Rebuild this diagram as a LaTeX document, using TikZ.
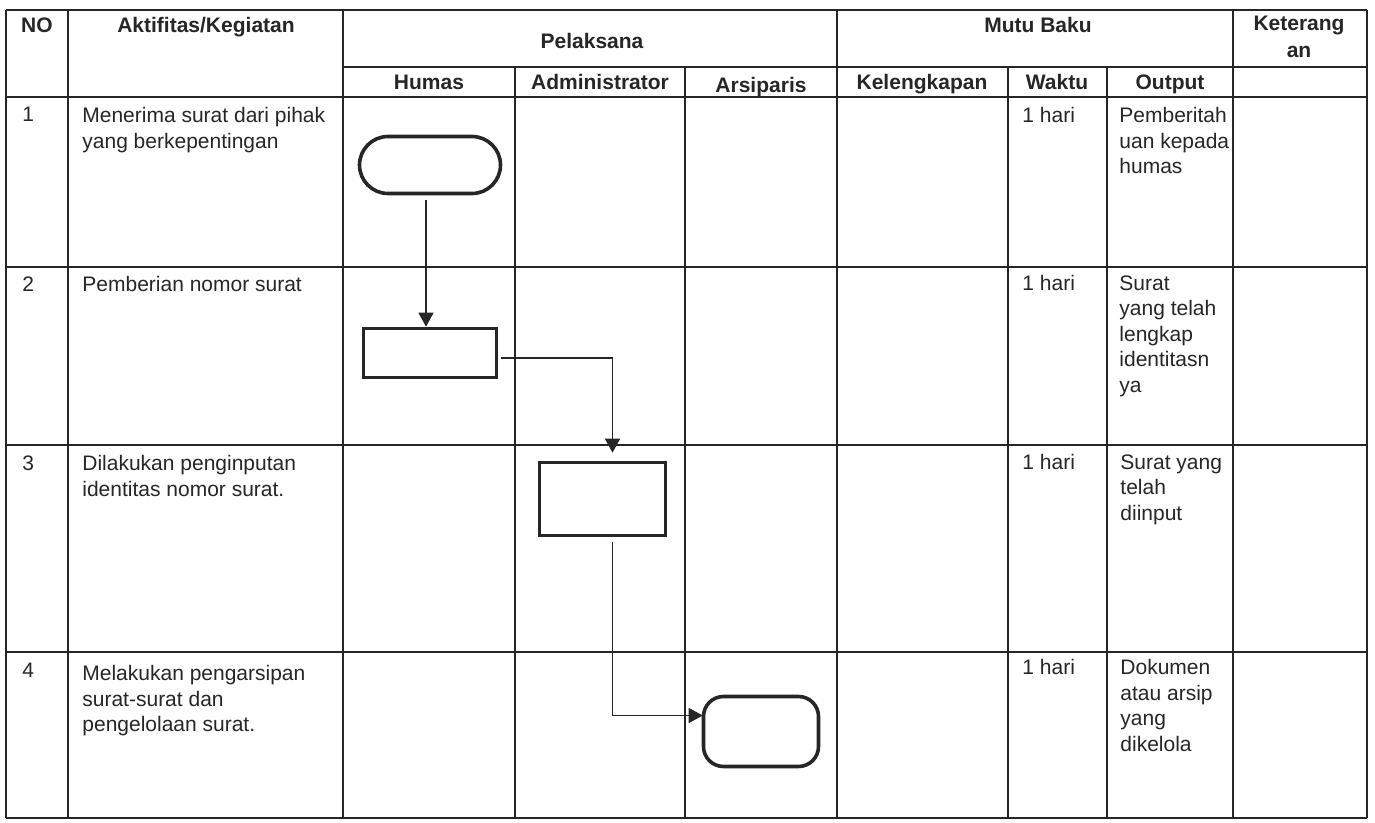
\documentclass[tikz,border=0pt]{standalone}
\usepackage{fontspec}
\setmainfont{Liberation Sans}
\usetikzlibrary{arrows.meta,calc,shapes.misc}
\begin{document}
\begin{tikzpicture}[x=0.5pt,y=-0.5pt,
  gridline/.style={line width=0.8pt, draw=black!85},
  cell/.style={anchor=north west, inner sep=0pt, align=left, font=\fontsize{10.5}{12.75}\selectfont, text=black!85},
  hdr/.style={inner sep=0pt, align=center, font=\bfseries\fontsize{10.5}{13.5}\selectfont, text=black!85},
  termbox/.style={draw=black!85, line width=1.8pt, rounded rectangle, inner sep=0pt},
  procbox/.style={draw=black!85, line width=1.8pt, rectangle, inner sep=0pt},
  archbox/.style={draw=black!85, line width=1.8pt, rectangle, rounded corners=10pt, inner sep=0pt},
  conn/.style={draw=black!85, line width=0.7pt, -{Triangle[width=7.5pt,length=7pt]}}
]
\useasboundingbox (0,0) rectangle (1375,823);
% horizontal grid lines
\draw[gridline] (6,10) -- (1367,10);
\draw[gridline] (343,67) -- (1367,67);
\foreach \y in {97,267,445,652,818} \draw[gridline] (6,\y) -- (1367,\y);
% vertical grid lines
\foreach \x in {6,68,343,837,1233,1367} \draw[gridline] (\x,10) -- (\x,818);
\foreach \x in {515,685,1008,1107} \draw[gridline] (\x,67) -- (\x,818);

% header
\node[hdr, anchor=north] (hNo) at (37,17) {NO};
\node[hdr, anchor=north] (hAkt) at (206,17) {Aktifitas/Kegiatan};
\node[hdr, anchor=north] (hPel) at (592,33) {Pelaksana};
\node[hdr, anchor=north] (hMutu) at (1038,17) {Mutu Baku};
\node[hdr, anchor=north] (hKet) at (1299,16) {Keterang\\an};
\node[hdr, anchor=base] (hHumas) at (429,90) {Humas};
\node[hdr, anchor=base] (hAdm) at (600,90) {Administrator};
\node[hdr, anchor=base] (hArs) at (761,93) {Arsiparis};
\node[hdr, anchor=base] (hKel) at (922,90) {Kelengkapan};
\node[hdr, anchor=base] (hWaktu) at (1057,90) {Waktu};
\node[hdr, anchor=base] (hOut) at (1170,90) {Output};

% row 1
\node[cell] (n1) at (22,107) {1};
\node[cell] (a1) at (82,107) {Menerima surat dari pihak\\yang berkepentingan};
\node[cell] (w1) at (1022,107) {1 hari};
\node[cell] (o1) at (1119,107) {Pemberitah\\uan kepada\\humas};
% row 2
\node[cell] (n2) at (22,276) {2};
\node[cell] (a2) at (82,276) {Pemberian nomor surat};
\node[cell] (w2) at (1022,275) {1 hari};
\node[cell] (o2) at (1119,275) {Surat\\yang telah\\lengkap\\identitasn\\ya};
% row 3
\node[cell] (n3) at (22,455) {3};
\node[cell] (a3) at (82,455) {Dilakukan penginputan\\identitas nomor surat.};
\node[cell] (w3) at (1022,454) {1 hari};
\node[cell] (o3) at (1120,454) {Surat yang\\telah\\diinput};
% row 4
\node[cell] (n4) at (22,663) {4};
\node[cell] (a4) at (82,665) {Melakukan pengarsipan\\surat-surat dan\\pengelolaan surat.};
\node[cell] (w4) at (1022,659) {1 hari};
\node[cell] (o4) at (1120,659) {Dokumen\\atau arsip\\yang\\dikelola};

% flow shapes
\node[termbox, minimum width=70.5pt, minimum height=28.5pt] (T1) at (430,165) {};
\node[procbox, minimum width=66.5pt, minimum height=24.5pt] (R1) at (430,353) {};
\node[procbox, minimum width=63pt, minimum height=36.5pt] (R2) at (602.5,499) {};
\node[archbox, minimum width=57.5pt, minimum height=35pt] (T2) at (761,731.5) {};

% connectors
\draw[conn] ($(T1.south)+(-4,5)$) -- ($(R1.north)+(-4,0)$);
\draw[conn] ($(R1.east)+(3,5)$) -| ($(R2.north)+(10,-8)$);
\draw[conn] ($(R2.south)+(10,5)$) |- ($(T2.west)+(1,-16)$);
\end{tikzpicture}
\end{document}
